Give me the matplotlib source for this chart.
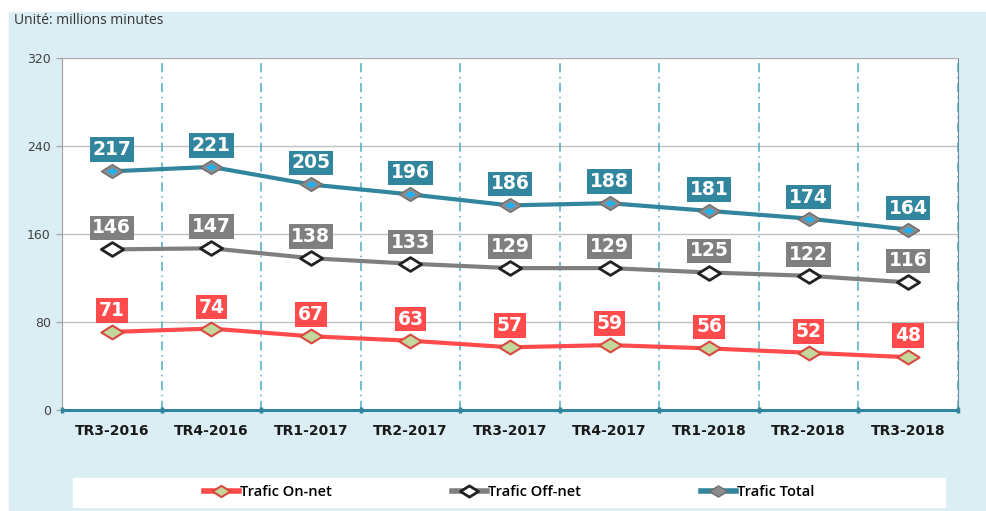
import matplotlib
matplotlib.use('Agg')
import matplotlib.pyplot as plt
from matplotlib.patches import Rectangle
from matplotlib.path import Path
from matplotlib.lines import Line2D

# data
quarters = ['TR3-2016', 'TR4-2016', 'TR1-2017', 'TR2-2017', 'TR3-2017',
            'TR4-2017', 'TR1-2018', 'TR2-2018', 'TR3-2018']
on_net = [71, 74, 67, 63, 57, 59, 56, 52, 48]
off_net = [146, 147, 138, 133, 129, 129, 125, 122, 116]
total = [217, 221, 205, 196, 186, 188, 181, 174, 164]
y_ticks = [0, 80, 160, 240, 320]

BG = '#dbeef4'
TEAL = '#31859c'
GREY = '#7f7f7f'
RED = '#ff4b4b'

# flattened diamond marker
diamond = Path([(-1, 0), (0, 0.62), (1, 0), (0, -0.62), (-1, 0)],
               [Path.MOVETO, Path.LINETO, Path.LINETO, Path.LINETO, Path.CLOSEPOLY])

fig = plt.figure(figsize=(9.87, 5.11), dpi=100)
fig.patches.append(Rectangle((9 / 987, 1 / 511), 1, (510 - 12) / 511,
                             transform=fig.transFigure, color=BG, zorder=-10))
fig.patches.append(Rectangle((73 / 987, 4 / 511), 872 / 987, 29 / 511,
                             transform=fig.transFigure, color='white', zorder=-5))

ax = fig.add_axes([62 / 987, 101 / 511, 896 / 987, 352 / 511])
ax.set_facecolor('white')
x = list(range(len(quarters)))

ax.set_xlim(-0.5, len(quarters) - 0.5)
ax.set_ylim(0, 320)

# grid
for v in y_ticks[1:]:
    ax.axhline(v, color='#c0c0c0', lw=1, zorder=1)
for b in range(len(quarters)):
    ax.axvline(b + 0.5, color='#4bacc6', lw=1.1, ls=(0, (6, 3, 1, 3)), zorder=1)

# series
ax.plot(x, total, color=TEAL, lw=3, zorder=3)
ax.plot(x, total, ls='none', marker=diamond, ms=16, mfc='#8c8c8c', mec='#6e6e6e', mew=1, zorder=4)
ax.plot(x, total, ls='none', marker=diamond, ms=8, mfc='#1fb2f0', mec='#1fb2f0', mew=0, zorder=5)

ax.plot(x, off_net, color=GREY, lw=3, zorder=3)
ax.plot(x, off_net, ls='none', marker=diamond, ms=16, mfc='white', mec='#222222', mew=2, zorder=4)

ax.plot(x, on_net, color=RED, lw=3, zorder=3)
ax.plot(x, on_net, ls='none', marker=diamond, ms=16, mfc='#c3d69b', mec='#d9473f', mew=1.5, zorder=4)

# data labels
for series, col in [(total, TEAL), (off_net, GREY), (on_net, RED)]:
    for xi, v in zip(x, series):
        ax.annotate(str(v), (xi, v), xytext=(0, 15.5), textcoords='offset points',
                    ha='center', va='center', color='white', fontsize=13.5, fontweight='bold',
                    bbox=dict(boxstyle='square,pad=0.15', fc=col, ec='none'), zorder=6)

# axes styling
ax.set_yticks(y_ticks)
ax.set_yticklabels([str(v) for v in y_ticks], fontsize=9, color='#404040')
ax.tick_params(axis='y', length=4, color='#a0a0a0', pad=4)
ax.set_xticks([b + 0.5 for b in range(-1, len(quarters))], minor=False)
ax.set_xticklabels([])
ax.tick_params(axis='x', length=4, width=2.5, color=TEAL, direction='inout')
ax.set_xticks(x, minor=True)
ax.set_xticklabels(quarters, minor=True, fontsize=10, fontweight='bold', color='#1a1a1a')
ax.tick_params(axis='x', which='minor', length=0, pad=10)

ax.spines['left'].set_color('#a0a0a0')
ax.spines['top'].set_color('#b0b0b0')
ax.spines['right'].set_color('#6a8f9a')
ax.spines['bottom'].set_color(TEAL)
ax.spines['bottom'].set_linewidth(2.2)

fig.text(14 / 987, 1 - 20 / 511, 'Unité: millions minutes', fontsize=10,
         family='Open Sans', color='#333333', va='center', ha='left')

# legend
handles = [
    Line2D([], [], color=RED, lw=4, marker=diamond, ms=13, mfc='#c3d69b', mec='#d9473f', mew=1.5),
    Line2D([], [], color=GREY, lw=4, marker=diamond, ms=13, mfc='white', mec='#222222', mew=2),
    Line2D([], [], color=TEAL, lw=4, marker=diamond, ms=13, mfc='#8c8c8c', mec='#6e6e6e', mew=1),
]
fig.legend(handles, ['Trafic On-net', 'Trafic Off-net', 'Trafic Total'], ncol=3,
           loc='center', bbox_to_anchor=(509 / 987, 1 - 492 / 511), frameon=False,
           prop={'family': 'Open Sans', 'size': 10.5, 'weight': 'semibold'}, handlelength=2.4,
           handletextpad=0.1, columnspacing=8.2)

fig.savefig('out.png', dpi=100)
